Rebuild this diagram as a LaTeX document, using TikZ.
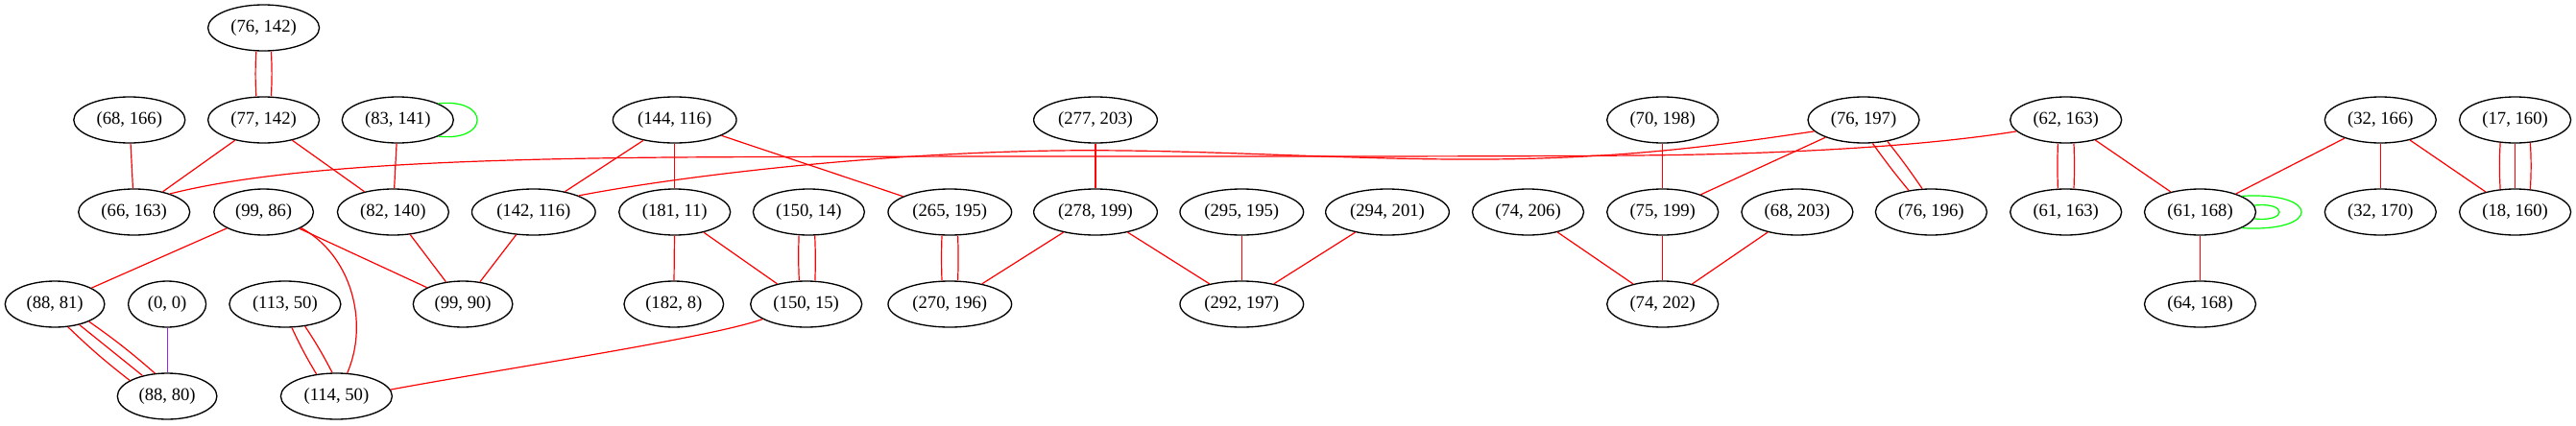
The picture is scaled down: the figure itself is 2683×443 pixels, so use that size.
\documentclass[tikz,border=0pt]{standalone}
\usepackage{fontspec}
\setmainfont{Liberation Serif}
\usetikzlibrary{shapes.geometric,calc}
\definecolor{vpurple}{HTML}{A020F0}
\definecolor{pgreen}{HTML}{00FF00}
\definecolor{pred}{HTML}{FF0000}
\begin{document}
\begin{tikzpicture}[x=0.75pt,y=-0.75pt,
  nd/.style={draw=black,line width=1pt,ellipse,inner sep=0pt,minimum height=36pt,font=\fontsize{14}{16}\selectfont},
  w7/.style={nd,minimum width=60.75pt},
  w8/.style={nd,minimum width=77.7pt},
  w9/.style={nd,minimum width=87pt},
  w10/.style={nd,minimum width=96.5pt},
  e/.style={draw=pred,line width=0.9pt},
  lp/.style={draw=pgreen,line width=0.9pt},
  pe/.style={draw=vpurple,line width=0.9pt}]
\useasboundingbox (0,0) rectangle (2683,443);
% row 1
\node[w9] (a76142) at (274.6,29) {(76, 142)};
% row 2
\node[w9] (a68166) at (134.8,125) {(68, 166)};
\node[w9] (a77142) at (274.6,125) {(77, 142)};
\node[w9] (a83141) at (414.3,125) {(83, 141)};
\node[w10] (a144116) at (702.7,125) {(144, 116)};
\node[w10] (a277203) at (1141,125) {(277, 203)};
\node[w9] (a70198) at (1731.7,125) {(70, 198)};
\node[w9] (a76197) at (1941,125) {(76, 197)};
\node[w9] (a62163) at (2151.7,125) {(62, 163)};
\node[w9] (a32166) at (2479.3,125) {(32, 166)};
\node[w9] (a17160) at (2619.6,125) {(17, 160)};
% row 3
\node[w9] (a66163) at (139.7,221) {(66, 163)};
\node[w8] (a9986) at (274.6,221) {(99, 86)};
\node[w9] (a82140) at (409.4,221) {(82, 140)};
\node[w10] (a142116) at (555.8,221) {(142, 116)};
\node[w9] (a18111) at (702.7,221) {(181, 11)};
\node[w9] (a15014) at (842.4,221) {(150, 14)};
\node[w10] (a265195) at (989.3,221) {(265, 195)};
\node[w10] (a278199) at (1141,221) {(278, 199)};
\node[w10] (a295195) at (1293.3,221) {(295, 195)};
\node[w10] (a294201) at (1445,221) {(294, 201)};
\node[w9] (a74206) at (1591.5,221) {(74, 206)};
\node[w9] (a75199) at (1731.7,221) {(75, 199)};
\node[w9] (a68203) at (1871.9,221) {(68, 203)};
\node[w9] (a76196) at (2011.4,221) {(76, 196)};
\node[w9] (a61163) at (2151.7,221) {(61, 163)};
\node[w9] (a61168) at (2291.5,221) {(61, 168)};
\node[w9] (a32170) at (2479.3,221) {(32, 170)};
\node[w9] (a18160) at (2619.6,221) {(18, 160)};
% row 4
\node[w8] (a8881) at (57.1,317) {(88, 81)};
\node[w7] (a00) at (174.1,317) {(0, 0)};
\node[w9] (a11350) at (296.9,317) {(113, 50)};
\node[w8] (a9990) at (482.1,317) {(99, 90)};
\node[w8] (a1828) at (701.8,317) {(182, 8)};
\node[w9] (a15015) at (839.7,317) {(150, 15)};
\node[w10] (a270196) at (989.3,317) {(270, 196)};
\node[w10] (a292197) at (1293.3,317) {(292, 197)};
\node[w9] (a74202) at (1731.7,317) {(74, 202)};
\node[w9] (a64168) at (2291.5,317) {(64, 168)};
% row 5
\node[w8] (a8880) at (174.1,413) {(88, 80)};
\node[w9] (a11450) at (350.4,413) {(114, 50)};

% multi edges (vertical)
\draw[e] ($(a76142.south)+(-7.8,0)$) to[bend right=3] ($(a77142.north)+(-7.8,0)$);
\draw[e] ($(a76142.south)+(7.8,0)$) to[bend left=3] ($(a77142.north)+(7.8,0)$);
\draw[e] ($(a15014.south)+(-10.3,0)$) to[bend right=2] ($(a15015.north)+(-7.4,0)$);
\draw[e] ($(a15014.south)+(6.3,0)$) to[bend left=2] ($(a15015.north)+(9.2,0)$);
\draw[e] ($(a265195.south)+(-8.3,0)$) to[bend right=2] ($(a270196.north)+(-8.3,0)$);
\draw[e] ($(a265195.south)+(8.3,0)$) to[bend left=2] ($(a270196.north)+(8.3,0)$);
\draw[e] ($(a62163.south)+(-8.3,0)$) to[bend right=2] ($(a61163.north)+(-8.3,0)$);
\draw[e] ($(a62163.south)+(8.3,0)$) to[bend left=2] ($(a61163.north)+(8.3,0)$);
\draw[e] ($(a17160.south)+(-15.5,-0.9)$) to[bend right=3] ($(a18160.north)+(-15.5,0.9)$);
\draw[e] (a17160) -- (a18160);
\draw[e] ($(a17160.south)+(15.8,-0.9)$) to[bend left=3] ($(a18160.north)+(15.8,0.9)$);
% multi edges (slanted)
\draw[e] (a76197.-69) to[bend right=2] (a76196.136);
\draw[e] (a76197.-42) to[bend left=2] (a76196.111);
\draw[e] (a8881.-60) to[bend right=3] (a8880.157);
\draw[e] (a8881.-40.6) -- (a8880.140.5);
\draw[e] (a8881.-27.5) to[bend left=3] (a8880.118);
\draw[e] (a11350.-74) to[bend right=3] (a11450.132);
\draw[e] (a11350.-48) to[bend left=3] (a11450.100);

% single straight edges
\draw[e] (a68166) -- (a66163);
\draw[e] (a77142) -- (a66163);
\draw[e] (a77142) -- (a82140);
\draw[e] (a83141) -- (a82140);
\draw[e] (a144116) -- (a142116);
\draw[e] (a144116) -- (a18111);
\draw[e] (a144116) -- (a265195);
\draw[e] (a18111) -- (a1828);
\draw[e] (a18111) -- (a15015);
\draw[e] (a277203) -- (a278199);
\draw[e] (a278199) -- (a270196);
\draw[e] (a278199) -- (a292197);
\draw[e] (a295195) -- (a292197);
\draw[e] (a294201) -- (a292197);
\draw[e] (a70198) -- (a75199);
\draw[e] (a76197) -- (a75199);
\draw[e] (a74206) -- (a74202);
\draw[e] (a75199) -- (a74202);
\draw[e] (a68203) -- (a74202);
\draw[e] (a62163) -- (a61168);
\draw[e] (a61168) -- (a64168);
\draw[e] (a32166) -- (a61168);
\draw[e] (a32166) -- (a32170);
\draw[e] (a32166) -- (a18160);
\draw[e] (a9986) -- (a8881);
\draw[e] (a9986) -- (a9990);
\draw[e] (a82140) -- (a9990);
\draw[e] (a142116) -- (a9990);
\draw[pe] (a00) -- (a8880);

% curved edges
\draw[e] (a9986.-23) .. controls (365,265) and (385,335) .. (a11450.65);
\draw[e] (a15015.199) .. controls (740,352) and (520,385) .. (a11450.7);
\draw[e] (a66163.27) .. controls (280,176) and (450,166) .. (700,164)
  .. controls (1000,162) and (1500,164) .. (1700,162)
  .. controls (1850,161) and (2000,153) .. (a62163.193);
\draw[e] (a142116.20) .. controls (700,185) and (900,160) .. (1100,157)
  .. controls (1250,155) and (1400,167) .. (1550,166)
  .. controls (1700,165) and (1800,150) .. (a76197.193);

% self loops
\draw[lp] (a83141.22) .. controls +(54,-6) and +(54,6) .. (a83141.-22);
\draw[lp] (a61168.7) .. controls +(35,-4) and +(35,4) .. (a61168.-7);
\draw[lp] (a61168.21) .. controls +(83,-5) and +(83,5) .. (a61168.-21);
\end{tikzpicture}
\end{document}
